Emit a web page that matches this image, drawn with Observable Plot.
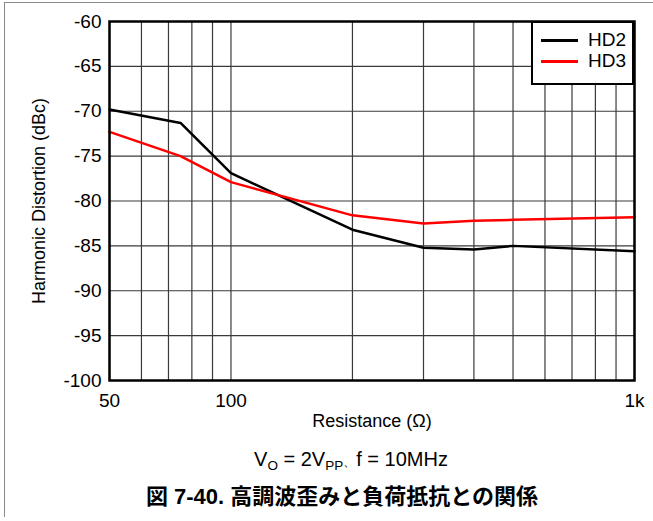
<!DOCTYPE html>
<html>
<head>
<meta charset="utf-8">
<script src="https://cdn.jsdelivr.net/npm/d3@7"></script>
<script src="https://cdn.jsdelivr.net/npm/@observablehq/plot@0.6"></script>
<style>
  html, body { margin: 0; padding: 0; background: white; }
  #wrap { position: relative; width: 653px; height: 521px; overflow: hidden; background: white;
          font-family: "Liberation Sans", Arial, sans-serif; color: black; }
  #frameL { position: absolute; left: 4px; top: 2px; width: 1px; height: 515px; background: #8a8a8a; }
  #frameT { position: absolute; left: 4px; top: 2px; width: 649px; height: 1px; background: #8a8a8a; }
  #legend { position: absolute; left: 531px; top: 21px; width: 103px; height: 64px; box-sizing: border-box;
            border: 2.5px solid black; background: white; }
  .li { position: absolute; left: 8px; height: 2.5px; width: 37px; }
  .lt { position: absolute; left: 55px; font-size: 19px; line-height: 20px; }
  #sub { position: absolute; left: 151px; width: 400px; top: 449px; text-align: center; font-size: 20px; line-height: 20px; }
  #sub sub { font-size: 13.5px; vertical-align: -4px; line-height: 0; }
  #sub .tc { font-size: 13px; }
  #cap { position: absolute; left: 92px; width: 500px; top: 485px; text-align: center; font-size: 22px; line-height: 24px;
         font-weight: bold; font-family: "Liberation Sans", Arial, "Noto Sans CJK JP", sans-serif; }
  #chart [aria-label="y-axis tick label"], #chart [aria-label="x-axis tick label"] { font-size: 19px; }
</style>
</head>
<body>
<div id="wrap">
  <div id="chart"></div>
  <div id="frameL"></div>
  <div id="frameT"></div>
  <div id="legend"></div>
  <div id="sub">V<sub>O</sub> = 2V<sub>PP</sub><span class="tc">、</span>f = 10MHz</div>
  <div id="cap">図 7-40. 高調波歪みと負荷抵抗との関係</div>
</div>
<script>
// Data
const resistance = [50, 75, 100, 200, 300, 400, 500, 1000];
const hd2 = [-69.8, -71.3, -76.9, -83.2, -85.2, -85.4, -85.0, -85.6];
const hd3 = [-72.3, -75.0, -77.9, -81.6, -82.5, -82.2, -82.1, -81.8];
const seriesNames = ["HD2", "HD3"];
const seriesColors = ["black", "#ff0000"];

const xTicks = [50, 100, 1000];
const xTickLabels = ["50", "100", "1k"];
const xGrid = [60, 70, 80, 90, 200, 300, 400, 500, 600, 700, 800, 900];
const yTicks = [-100, -95, -90, -85, -80, -75, -70, -65, -60];
const yTickLabels = ["-100", "-95", "-90", "-85", "-80", "-75", "-70", "-65", "-60"];

const rows = [];
resistance.forEach((r, i) => {
  rows.push({r, v: hd2[i], s: seriesNames[0]});
  rows.push({r, v: hd3[i], s: seriesNames[1]});
});

const chart = Plot.plot({
  width: 653,
  height: 440,
  marginLeft: 109,
  marginRight: 19,
  marginTop: 21,
  marginBottom: 60,
  style: {fontFamily: "'Liberation Sans', Arial, sans-serif", fontSize: "18px", color: "black", background: "transparent", overflow: "visible"},
  x: {type: "log", domain: [50, 1000], ticks: xTicks, tickFormat: d => xTickLabels[xTicks.indexOf(d)],
      tickSize: 0, tickPadding: 13, label: "Resistance (Ω)", labelAnchor: "center", labelArrow: "none", labelOffset: 46},
  y: {domain: [-100, -60], ticks: yTicks, tickFormat: d => yTickLabels[yTicks.indexOf(d)], tickSize: 0, tickPadding: 8,
      label: "Harmonic Distortion (dBc)", labelAnchor: "center", labelArrow: "none", labelOffset: 77},
  color: {domain: seriesNames, range: seriesColors},
  marks: [
    Plot.ruleX(xGrid, {stroke: "#3a3a3a", strokeWidth: 1.2}),
    Plot.ruleX(xTicks, {stroke: "#3a3a3a", strokeWidth: 1.2}),
    Plot.ruleY(yTicks, {stroke: "#3a3a3a", strokeWidth: 1.2}),
    Plot.line(rows, {x: "r", y: "v", z: "s", stroke: "s", strokeWidth: 2.5}),
    Plot.frame({stroke: "black", strokeWidth: 2.5})
  ]
});
document.getElementById("chart").appendChild(chart);

// Legend
const leg = document.getElementById("legend");
seriesNames.forEach((n, i) => {
  const line = document.createElement("div");
  line.className = "li";
  line.style.background = seriesColors[i];
  line.style.top = (16 + i * 21) + "px";
  leg.appendChild(line);
  const t = document.createElement("div");
  t.className = "lt";
  t.textContent = n;
  t.style.top = (7 + i * 21) + "px";
  leg.appendChild(t);
});
</script>
</body>
</html>
